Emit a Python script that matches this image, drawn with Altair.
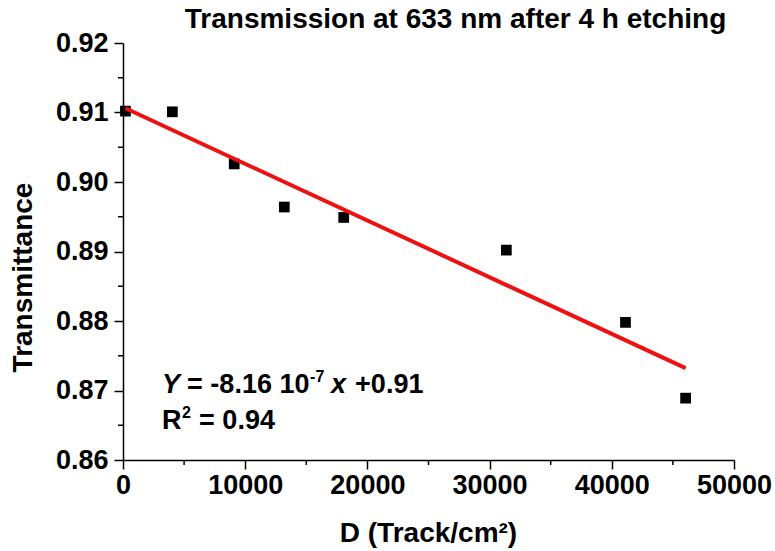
import altair as alt
import pandas as pd

# Data
D = [200, 4040, 9100, 13200, 18060, 31370, 41120, 46040]
T = [0.9102, 0.9101, 0.9026, 0.8964, 0.8949, 0.8902, 0.8798, 0.8689]

x_major = [0, 10000, 20000, 30000, 40000, 50000]
x_minor = [5000, 15000, 25000, 35000, 45000]
y_major = [0.86, 0.87, 0.88, 0.89, 0.90, 0.91, 0.92]
y_minor = [0.865, 0.875, 0.885, 0.895, 0.905, 0.915]

eq_pos_x = [3200]
eq_pos_y = [0.8697]
r2_pos_y = [0.8645]

FONT = "Liberation Sans"
FS = 27      # tick labels / annotation
FT = 28      # titles
W, H = 611, 417

df = pd.DataFrame({"D": D, "T": T})
ann = pd.DataFrame({"D": eq_pos_x, "T": eq_pos_y, "T2": r2_pos_y})
xmin_df = pd.DataFrame({"D": x_minor})
ymin_df = pd.DataFrame({"T": y_minor})

XT = "D (Track/cm²)"
YT = "Transmittance"

xscale = alt.Scale(domain=[0, 50000], nice=False, zero=False)
yscale = alt.Scale(domain=[0.86, 0.92], nice=False, zero=False)

x_axis = alt.Axis(
    values=x_major, format="d", grid=False,
    domainColor="black", domainWidth=1.5, tickColor="black", tickWidth=1.5,
    tickSize=9, labelFont=FONT, labelFontSize=FS, labelFontWeight="bold",
    labelColor="black", labelPadding=3, labelFlush=False,
    titleFont=FONT, titleFontSize=FT, titleFontWeight="bold", titleColor="black",
    titleX=305, titleY=81, titleBaseline="alphabetic",
)
y_axis = alt.Axis(
    values=y_major, format=".2f", grid=False,
    domainColor="black", domainWidth=1.5, tickColor="black", tickWidth=1.5,
    tickSize=9, labelFont=FONT, labelFontSize=FS, labelFontWeight="bold",
    labelColor="black", labelPadding=6,
    titleFont=FONT, titleFontSize=FT, titleFontWeight="bold", titleColor="black",
    titleX=-100, titleY=234, titleAngle=270, titleBaseline="middle",
)

def X(field="D"):
    return alt.X(f"{field}:Q", scale=xscale, axis=x_axis, title=XT)

def Y(field="T"):
    return alt.Y(f"{field}:Q", scale=yscale, axis=y_axis, title=YT)

points = alt.Chart(df).mark_square(size=115, color="black", opacity=1).encode(
    x=X(), y=Y(),
)

fit = alt.Chart(df).transform_regression("D", "T").mark_line(
    color="#ee1111", strokeWidth=4
).encode(x=X(), y=Y())

# minor ticks
minor_x = alt.Chart(xmin_df).mark_rule(color="black", strokeWidth=1.5).encode(
    x=X(), y=alt.value(H), y2=alt.value(H + 5),
)
minor_y = alt.Chart(ymin_df).mark_rule(color="black", strokeWidth=1.5).encode(
    y=Y(), x=alt.value(-5), x2=alt.value(0),
)

base_text = dict(font=FONT, fontSize=FS, fontWeight="bold", color="black",
                 align="left", baseline="alphabetic")

def txt(s, dx, yfield="T", italic=False, size=FS, dy=0):
    kw = dict(base_text)
    kw["fontSize"] = size
    if italic:
        kw["fontStyle"] = "italic"
    return alt.Chart(ann).mark_text(text=s, dx=dx, dy=dy, **kw).encode(
        x=X(), y=Y(yfield),
    )

eq = [
    txt("Y", 0, italic=True),
    txt("= -8.16 10", 25),
    txt("-7", 148, size=16, dy=-11),
    txt("x", 169, italic=True),
    txt("+0.91", 193),
    txt("R", 0, yfield="T2"),
    txt("2", 20, yfield="T2", size=16, dy=-11),
    txt("= 0.94", 37, yfield="T2"),
]

chart = alt.layer(points, fit, minor_x, minor_y, *eq).properties(
    width=W, height=H,
    autosize=alt.AutoSizeParams(type="none"),
    padding={"left": 123, "top": 43, "right": 41, "bottom": 91},
    title=alt.TitleParams(
        "Transmission at 633 nm after 4 h etching", font=FONT, fontSize=FT,
        fontWeight="bold", color="black", anchor="middle", dx=27, offset=-5,
    ),
).configure_view(stroke=None)

chart.save("out.html", embed_options={"renderer": "svg", "actions": False})
